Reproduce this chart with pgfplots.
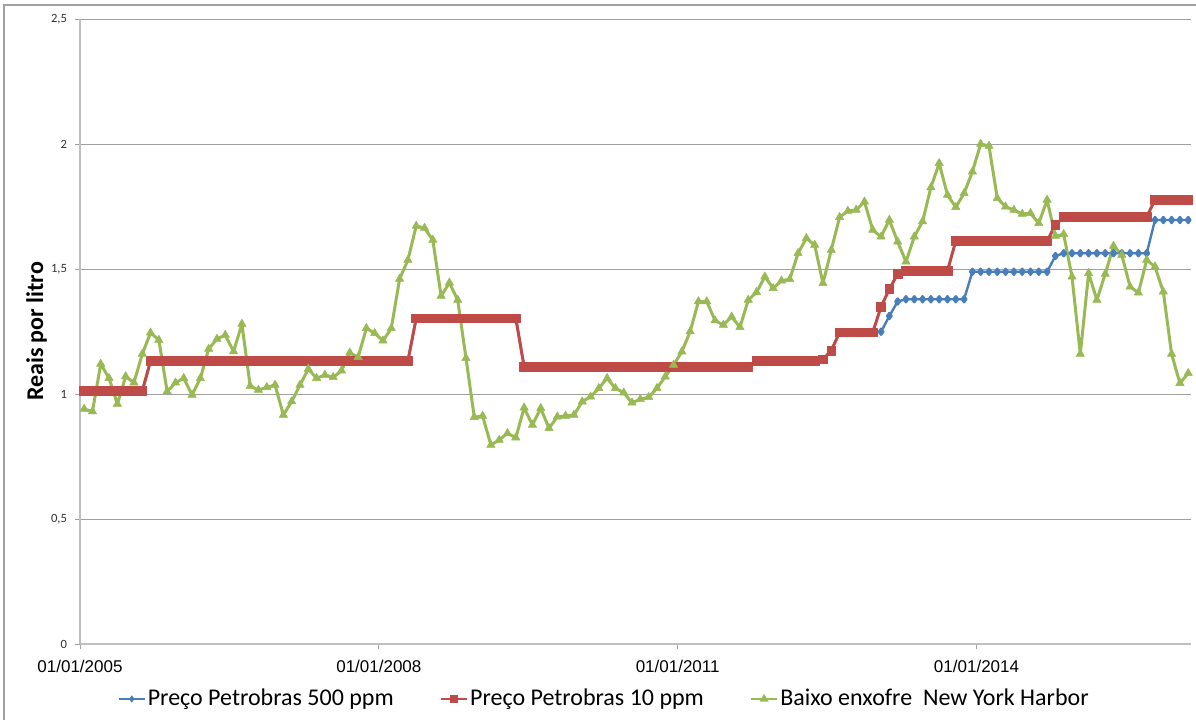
\documentclass[border=0pt]{standalone}
\usepackage{fontspec}
\setmainfont{Carlito}
\newfontfamily\arialf{Liberation Sans}
\usepackage{pgfplots}
\usepackage{pgfplotstable}
\pgfplotsset{compat=1.18}
\definecolor{cblue}{HTML}{4A7EBB}
\definecolor{cred}{HTML}{BE4B48}
\definecolor{cgreen}{HTML}{98B954}
\definecolor{gridc}{HTML}{A0A0A0}
\definecolor{axc}{HTML}{BFBFBF}
\definecolor{tickc}{HTML}{303030}

\pgfplotstableread{
i b r g
0 1.012 1.012 0.940
1 1.012 1.012 0.930
2 1.012 1.012 1.120
3 1.012 1.012 1.063
4 1.012 1.012 0.960
5 1.012 1.012 1.070
6 1.012 1.012 1.045
7 1.012 1.012 1.160
8 1.132 1.132 1.245
9 1.132 1.132 1.216
10 1.132 1.132 1.010
11 1.132 1.132 1.045
12 1.132 1.132 1.063
13 1.132 1.132 0.996
14 1.132 1.132 1.063
15 1.132 1.132 1.180
16 1.132 1.132 1.220
17 1.132 1.132 1.236
18 1.132 1.132 1.170
19 1.132 1.132 1.280
20 1.132 1.132 1.032
21 1.132 1.132 1.016
22 1.132 1.132 1.027
23 1.132 1.132 1.036
24 1.132 1.132 0.916
25 1.132 1.132 0.970
26 1.132 1.132 1.036
27 1.132 1.132 1.100
28 1.132 1.132 1.063
29 1.132 1.132 1.076
30 1.132 1.132 1.067
31 1.132 1.132 1.093
32 1.132 1.132 1.165
33 1.132 1.132 1.147
34 1.132 1.132 1.263
35 1.132 1.132 1.243
36 1.132 1.132 1.213
37 1.132 1.132 1.263
38 1.132 1.132 1.460
39 1.132 1.132 1.536
40 1.303 1.303 1.672
41 1.303 1.303 1.664
42 1.303 1.303 1.616
43 1.303 1.303 1.392
44 1.303 1.303 1.445
45 1.303 1.303 1.376
46 1.303 1.303 1.143
47 1.303 1.303 0.907
48 1.303 1.303 0.912
49 1.303 1.303 0.796
50 1.303 1.303 0.816
51 1.303 1.303 0.843
52 1.303 1.303 0.825
53 1.109 1.109 0.945
54 1.109 1.109 0.876
55 1.109 1.109 0.943
56 1.109 1.109 0.863
57 1.109 1.109 0.909
58 1.109 1.109 0.912
59 1.109 1.109 0.916
60 1.109 1.109 0.969
61 1.109 1.109 0.989
62 1.109 1.109 1.023
63 1.109 1.109 1.063
64 1.109 1.109 1.023
65 1.109 1.109 1.005
66 1.109 1.109 0.965
67 1.109 1.109 0.979
68 1.109 1.109 0.987
69 1.109 1.109 1.023
70 1.109 1.109 1.069
71 1.109 1.109 1.116
72 1.109 1.109 1.169
73 1.109 1.109 1.250
74 1.109 1.109 1.370
75 1.109 1.109 1.370
76 1.109 1.109 1.294
77 1.109 1.109 1.276
78 1.109 1.109 1.309
79 1.109 1.109 1.267
80 1.109 1.109 1.376
81 1.133 1.133 1.407
82 1.133 1.133 1.469
83 1.133 1.133 1.423
84 1.133 1.133 1.453
85 1.133 1.133 1.459
86 1.133 1.133 1.563
87 1.133 1.133 1.623
88 1.133 1.133 1.596
89 1.139 1.139 1.443
90 1.173 1.173 1.576
91 1.247 1.247 1.707
92 1.247 1.247 1.732
93 1.247 1.247 1.736
94 1.247 1.247 1.769
95 1.247 1.247 1.656
96 1.249 1.349 1.629
97 1.312 1.420 1.696
98 1.370 1.480 1.609
99 1.379 1.493 1.529
100 1.379 1.493 1.629
101 1.379 1.493 1.690
102 1.379 1.493 1.826
103 1.379 1.493 1.923
104 1.379 1.493 1.796
105 1.379 1.612 1.747
106 1.379 1.612 1.803
107 1.489 1.612 1.889
108 1.489 1.612 2.000
109 1.489 1.612 1.992
110 1.489 1.612 1.783
111 1.489 1.612 1.749
112 1.489 1.612 1.736
113 1.489 1.612 1.720
114 1.489 1.612 1.723
115 1.489 1.612 1.683
116 1.489 1.612 1.776
117 1.552 1.676 1.632
118 1.563 1.709 1.639
119 1.563 1.709 1.469
120 1.563 1.709 1.160
121 1.563 1.709 1.483
122 1.563 1.709 1.376
123 1.563 1.709 1.480
124 1.563 1.709 1.592
125 1.563 1.709 1.556
126 1.563 1.709 1.429
127 1.563 1.709 1.405
128 1.563 1.709 1.536
129 1.696 1.776 1.509
130 1.696 1.776 1.409
131 1.696 1.776 1.160
132 1.696 1.776 1.043
133 1.696 1.776 1.083
}\data

\begin{document}
\begin{tikzpicture}
\useasboundingbox (0,0) rectangle (598pt,360pt);
\begin{axis}[
  at={(40pt,38pt)}, anchor=south west,
  scale only axis, width=555.35pt, height=312.5pt,
  xmin=-0.5, xmax=133.3, ymin=0, ymax=2.5,
  axis lines*=left,
  axis line style={draw=axc, line width=1pt},
  xtick={-0.5,35.5,71.5,107.5},
  xticklabels={01/01/2005,01/01/2008,01/01/2011,01/01/2014},
  xticklabel style={font=\arialf\fontsize{8.5pt}{10pt}\selectfont, text=black, yshift=-2pt},
  ytick={0,0.5,1,1.5,2,2.5},
  yticklabels={0,{0,5},1,{1,5},2,{2,5}},
  yticklabel style={font=\fontsize{6.3pt}{7pt}\selectfont, text=tickc, xshift=-0.5pt},
  tick align=outside,
  major tick length=2.5pt,
  tick style={draw=gridc, line width=0.5pt},
  ymajorgrids,
  grid style={draw=gridc, line width=0.5pt},
  ylabel={\bfseries Reais por litro},
  ylabel style={font=\fontsize{12pt}{14pt}\selectfont, at={(axis description cs:0,0.5)}, anchor=south, yshift=13pt},
  clip=false,
  legend style={at={(0.472,-0.088)}, anchor=center, draw=none, fill=none,
    font=\fontsize{12pt}{14pt}\selectfont,
    nodes={inner sep=1pt},
    /tikz/every even column/.append style={column sep=22pt}},
  legend columns=3,
  legend image code/.code={\draw[mark repeat=2,mark phase=2] plot coordinates {(0pt,0pt) (6.5pt,0pt) (13pt,0pt)};},
]
\addplot[cblue, line width=1.2pt, line join=round, mark=diamond*, mark size=1.5pt, mark options={fill=cblue, draw=cblue}, forget plot] table[x=i, y=b] {\data};
\addplot[cred, line width=1.5pt, line join=round, mark=square*, mark size=2.2pt, mark options={fill=cred, draw=cred, line width=0.3pt}, forget plot] table[x=i, y=r] {\data};
\addplot[cgreen, line width=1.5pt, line join=round, mark=triangle*, mark size=2.4pt, mark options={fill=cgreen, draw=cgreen, line width=0.3pt}, forget plot] table[x=i, y=g] {\data};
\addlegendimage{cblue, line width=1pt, mark=diamond*, mark size=1pt}
\addlegendentry{Preço Petrobras 500 ppm}
\addlegendimage{cred, line width=1.2pt, mark=square*, mark size=1.3pt}
\addlegendentry{Preço Petrobras 10 ppm}
\addlegendimage{cgreen, line width=1.2pt, mark=triangle*, mark size=1.4pt}
\addlegendentry{Baixo enxofre\ \ New York Harbor}
\end{axis}
\draw[gridc, line width=0.6pt] (2pt,0pt) -- (2pt,357.5pt) -- (598pt,357.5pt);
\end{tikzpicture}
\end{document}
